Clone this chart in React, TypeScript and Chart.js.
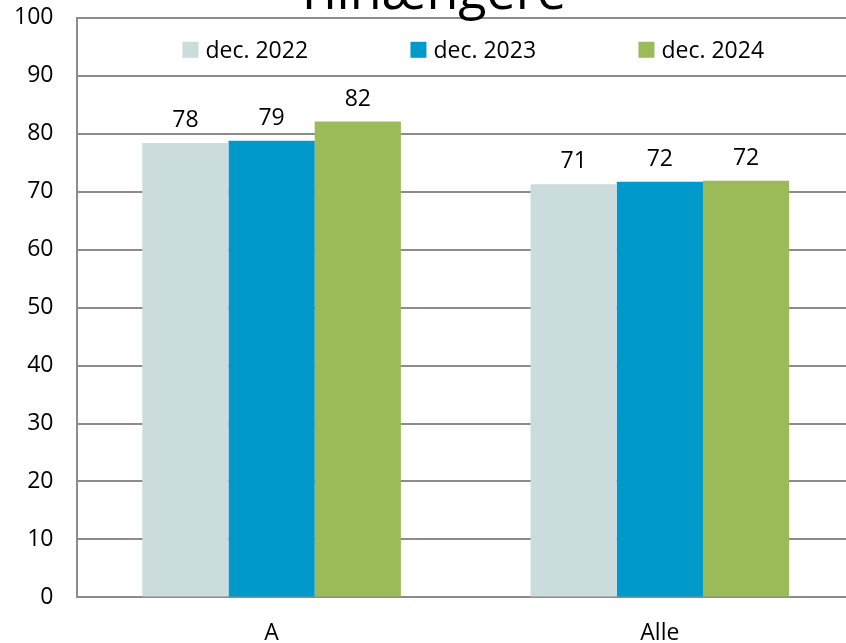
import React, { useEffect, useRef } from 'react';
import { Chart, registerables } from 'chart.js';

Chart.register(...registerables);

const TITLE = 'Tilhængere';
const categories = ['A', 'Alle'];
const seriesLabels = ['dec. 2022', 'dec. 2023', 'dec. 2024'];
const dec2022 = [78.4, 71.3];
const dec2023 = [78.8, 71.7];
const dec2024 = [82.1, 71.9];
const seriesColors = ['#CBDCDD', '#0099CC', '#9BBB59'];
const yTicks = [0, 10, 20, 30, 40, 50, 60, 70, 80, 90, 100];

const FONT = "'Open Sans', 'Noto Sans', sans-serif";
const GRID = '#8c8c8c';

const overlayPlugin = {
  id: 'overlay',
  afterDatasetsDraw(chart: any) {
    const ctx = chart.ctx;
    const area = chart.chartArea;
    ctx.save();
    ctx.font = `23px ${FONT}`;
    ctx.fillStyle = '#000';
    ctx.textAlign = 'center';
    ctx.textBaseline = 'alphabetic';
    chart.data.datasets.forEach((ds: any, di: number) => {
      const meta = chart.getDatasetMeta(di);
      meta.data.forEach((bar: any, i: number) => {
        ctx.fillText(String(Math.round(ds.data[i])), bar.x, bar.y - 16);
      });
    });
    // legend
    const baseY = area.top + 40;
    chart.data.datasets.forEach((ds: any, di: number) => {
      const x = area.left + 105 + di * 228;
      ctx.fillStyle = ds.backgroundColor;
      ctx.fillRect(x, baseY - 16, 16, 16);
      ctx.fillStyle = '#000';
      ctx.textAlign = 'left';
      ctx.fillText(ds.label, x + 23, baseY);
    });
    // title (cut off at top, as in the reference)
    ctx.font = `52px ${FONT}`;
    ctx.textAlign = 'center';
    ctx.fillText(TITLE, area.left + 353, area.top - 9);
    ctx.restore();
  },
};

export default function App() {
  const ref = useRef<HTMLCanvasElement | null>(null);
  useEffect(() => {
    document.body.style.margin = '0';
    const canvas = ref.current;
    if (!canvas) return;
    const series = [dec2022, dec2023, dec2024];
    const chart = new Chart(canvas, {
      type: 'bar',
      data: {
        labels: categories,
        datasets: series.map((d, i) => ({
          label: seriesLabels[i],
          data: d,
          backgroundColor: seriesColors[i],
          borderWidth: 0,
          categoryPercentage: 0.666,
          barPercentage: 1,
        })),
      },
      options: {
        animation: false,
        responsive: false,
        devicePixelRatio: 1,
        layout: { padding: { left: 0, top: 18, right: 6, bottom: 13 } },
        plugins: {
          legend: { display: false },
          title: { display: false },
          tooltip: { enabled: false },
        },
        scales: {
          x: {
            grid: { display: false, drawTicks: false },
            border: { display: true, color: GRID, width: 2 },
            ticks: { color: '#000', font: { family: FONT, size: 23 }, padding: 22 },
          },
          y: {
            min: 0,
            max: 100,
            afterBuildTicks: (axis: any) => {
              axis.ticks = yTicks.map((v) => ({ value: v }));
            },
            grid: { color: GRID, lineWidth: 2, drawTicks: false },
            border: { display: true, color: GRID, width: 2 },
            ticks: { color: '#000', font: { family: FONT, size: 23 }, padding: 24 },
          },
        },
      },
      plugins: [overlayPlugin],
    });
    return () => chart.destroy();
  }, []);
  return (
    <div style={{ width: 846, height: 643, overflow: 'hidden', position: 'relative' }}>
      <canvas
        ref={ref}
        width={870}
        height={702}
        style={{ display: 'block', position: 'absolute', left: -10, top: -20 }}
      />
    </div>
  );
}
